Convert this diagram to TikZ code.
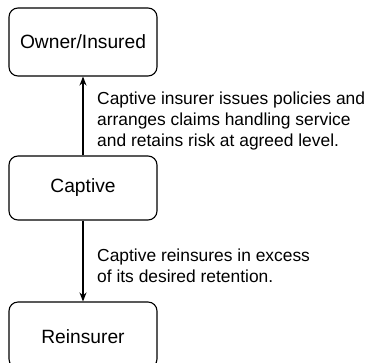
\documentclass[tikz,border=0pt]{standalone}
\usepackage{fontspec}
\setmainfont{Liberation Sans}
\usetikzlibrary{arrows.meta}
\begin{document}
\begin{tikzpicture}[x=1pt,y=1pt,
  box/.style={draw=black, line width=1.1pt, rounded corners=9pt, minimum width=148pt, inner sep=0pt, font=\fontsize{19.2}{22}\selectfont},
  note/.style={align=left, inner sep=0pt, anchor=base west, font=\fontsize{17.4}{21}\selectfont},
  conn/.style={line width=1.1pt, -{Stealth[length=9pt,width=7pt]}}]
\useasboundingbox (0,0) rectangle (371,-362);
\clip (0,0) rectangle (371,-362);
\node[box, minimum height=68pt] (own) at (83,-42) {Owner/Insured};
\node[box, minimum height=64pt] (cap) at (83,-188) {Captive};
\node[box, minimum height=66pt] (rei) at (83,-335) {};
\node[font=\fontsize{19.2}{22}\selectfont, anchor=base, inner sep=0pt] (reit) at (83,-343) {Reinsurer};
\draw[conn] (cap.north) -- (own.south);
\draw[conn] (cap.south) -- (rei.north);
\node[note] (n1) at (97,-146) {Captive insurer issues policies and\\arranges claims handling service\\and retains risk at agreed level.};
\node[note] (n2) at (97,-282) {Captive reinsures in excess\\of its desired retention.};
\end{tikzpicture}
\end{document}
